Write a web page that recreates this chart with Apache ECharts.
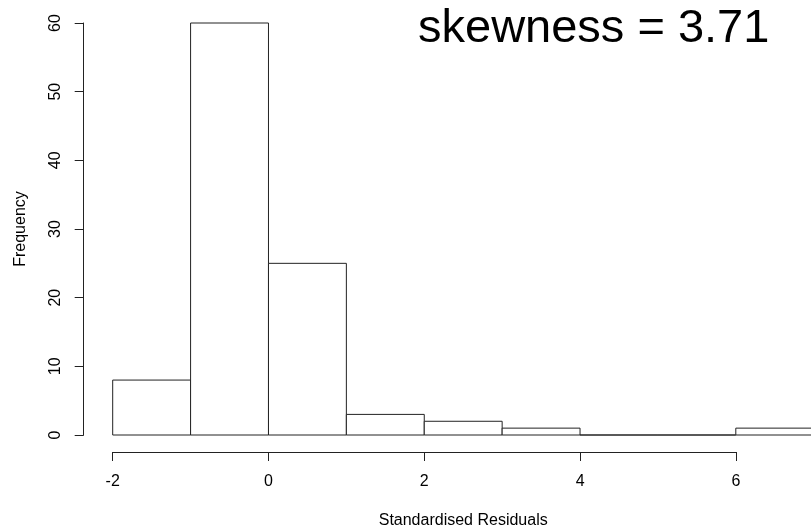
<!DOCTYPE html>
<html>
<head>
<meta charset="utf-8">
<script src="https://cdn.jsdelivr.net/npm/echarts@6/dist/echarts.min.js"></script>
<style>
  html, body { margin: 0; padding: 0; background: #fff; }
  #chart { width: 811px; height: 529px; }
</style>
</head>
<body>
<div id="chart"></div>
<script>
// Histogram of standardised residuals (bin width 1)
const binStarts = [-2, -1, 0, 1, 2, 3, 4, 5, 6];
const binWidth = 1;
const counts = [8, 60, 25, 3, 2, 1, 0, 0, 1];
const xTicks = [-2, 0, 2, 4, 6];
const yTicks = [0, 10, 20, 30, 40, 50, 60];
const skewness = 3.71;

const FONT = '"Liberation Sans", Arial, sans-serif';
const INK = '#222';

const bins = binStarts.map((s, i) => [s, s + binWidth, counts[i]]);

const chart = echarts.init(document.getElementById('chart'), null, { renderer: 'canvas' });

chart.setOption({
  animation: false,
  backgroundColor: '#fff',
  title: {
    text: 'skewness = ' + skewness.toFixed(2),
    left: 418,
    top: 6,
    padding: 0,
    textStyle: { fontFamily: FONT, fontSize: 47, fontWeight: 'normal', color: '#000' }
  },
  grid: [
    // plotting region for the bars (x from -2 to 7)
    { left: 112.7, top: 23, width: 701, height: 412, containLabel: false, outerBoundsMode: 'none' },
    // region for the drawn x axis, which only spans the ticks -2..6
    { left: 112.7, top: 23, width: 623.2, height: 412, containLabel: false, outerBoundsMode: 'none' }
  ],
  xAxis: [
    {
      type: 'value', gridIndex: 0, min: -2, max: 7,
      name: 'Standardised Residuals', nameLocation: 'middle', nameGap: 78,
      nameTextStyle: { fontFamily: FONT, fontSize: 16, color: '#000' },
      axisLine: { show: false, onZero: false }, axisTick: { show: false },
      axisLabel: { show: false }, splitLine: { show: false }
    },
    {
      type: 'value', gridIndex: 1, min: xTicks[0], max: xTicks[xTicks.length - 1],
      interval: 2, position: 'bottom', offset: 17,
      axisLine: { show: true, onZero: false, lineStyle: { color: INK, width: 1 } },
      axisTick: { show: true, length: 9, lineStyle: { color: INK, width: 1 } },
      axisLabel: { show: true, margin: 22, fontFamily: FONT, fontSize: 16, color: '#000',
                   customValues: xTicks },
      splitLine: { show: false }
    }
  ],
  yAxis: [
    {
      type: 'value', gridIndex: 0, min: yTicks[0], max: yTicks[yTicks.length - 1],
      interval: 10, position: 'left', offset: 29,
      name: 'Frequency', nameLocation: 'middle', nameGap: 55,
      nameTextStyle: { fontFamily: FONT, fontSize: 16, color: '#000' },
      axisLine: { show: true, onZero: false, lineStyle: { color: INK, width: 1 } },
      axisTick: { show: true, length: 9, lineStyle: { color: INK, width: 1 } },
      axisLabel: { show: true, rotate: 90, margin: 20, fontFamily: FONT, fontSize: 16, color: '#000' },
      splitLine: { show: false }
    },
    {
      type: 'value', gridIndex: 1, min: 0, max: 60, show: false
    }
  ],
  series: [
    {
      type: 'custom',
      xAxisIndex: 0,
      yAxisIndex: 0,
      clip: false,
      data: bins,
      encode: { x: [0, 1], y: 2 },
      renderItem: function (params, api) {
        const topLeft = api.coord([api.value(0), api.value(2)]);
        const bottomRight = api.coord([api.value(1), 0]);
        return {
          type: 'rect',
          shape: {
            x: topLeft[0],
            y: topLeft[1],
            width: bottomRight[0] - topLeft[0],
            height: bottomRight[1] - topLeft[1]
          },
          style: { fill: '#fff', stroke: INK, lineWidth: 1 }
        };
      }
    }
  ]
});
</script>
</body>
</html>
